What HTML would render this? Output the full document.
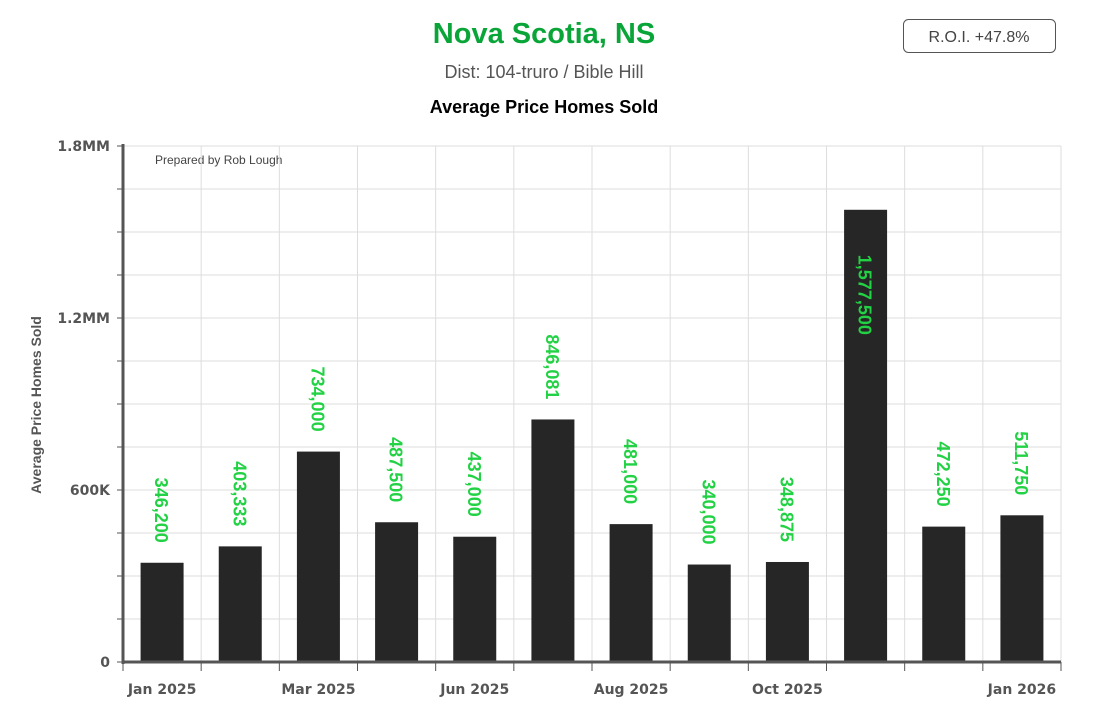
<!DOCTYPE html>
<html><head><meta charset="utf-8"><style>
body{margin:0;background:#fff;font-family:"Liberation Sans",sans-serif;}
#wrap{position:relative;width:1093px;height:712px;overflow:hidden;}
</style></head><body>
<div id="wrap">
<svg id="chart" width="1093" height="712" xmlns="http://www.w3.org/2000/svg">
<text x="544" y="43" text-anchor="middle" font-size="29" font-weight="bold" fill="#0aa538">Nova Scotia, NS</text>
<text x="544" y="78" text-anchor="middle" font-size="18" fill="#555">Dist: 104-truro / Bible Hill</text>
<text x="544" y="113" text-anchor="middle" font-size="18" font-weight="bold" fill="#000">Average Price Homes Sold</text>
<g>
<rect x="903.5" y="19.5" width="152" height="33" rx="5" fill="#fff" stroke="#555"/>
<text x="979" y="42" text-anchor="middle" font-size="16" fill="#444">R.O.I. +47.8%</text>
</g>
<text x="155" y="164" font-size="12" fill="#444">Prepared by Rob Lough</text>
<text transform="translate(41,405) rotate(-90)" text-anchor="middle" font-size="14" font-weight="bold" fill="#555">Average Price Homes Sold</text>
<g id="grid"></g><g id="bars"></g><g id="axes"></g>
</svg>
</div>
<script>
const categories=["Jan 2025","Feb 2025","Mar 2025","Apr 2025","Jun 2025","Jul 2025","Aug 2025","Sep 2025","Oct 2025","Nov 2025","Dec 2025","Jan 2026"];
const values=[346200,403333,734000,487500,437000,846081,481000,340000,348875,1577500,472250,511750];
const labelShown=[true,false,true,false,true,false,true,false,true,false,false,true];
const yTickValues=[0,600000,1200000,1800000];
const yTickLabels=["0","600K","1.2MM","1.8MM"];
const yMax=1800000, gridStep=150000;
const NS="http://www.w3.org/2000/svg";
const X0=123,X1=1061,Y0=662,Y1=146;
const step=(X1-X0)/categories.length;
const xC=i=>X0+step*(i+0.5);
const y=v=>Y0-(v/yMax)*(Y0-Y1);
function mk(t,a,p){const e=document.createElementNS(NS,t);for(const k in a)e.setAttribute(k,a[k]);p.appendChild(e);return e;}
const grid=document.getElementById('grid'),bars=document.getElementById('bars'),axes=document.getElementById('axes');
for(let v=0;v<=yMax+1;v+=gridStep){
 const l=mk('line',{x1:X0,x2:X1,y1:y(v),y2:y(v),stroke:'#ddd','stroke-width':1},grid);
 
 
 const t=mk('line',{x1:X0-6,x2:X0,y1:y(v),y2:y(v),stroke:'#555','stroke-width':1},axes);
 
 
}
for(let i=0;i<=categories.length;i++){
 const x=X0+step*i;
 const l=mk('line',{x1:x,x2:x,y1:Y1,y2:Y0,stroke:'#ddd','stroke-width':1},grid);
 
 
 const t=mk('line',{x1:x,x2:x,y1:Y0,y2:Y0+9,stroke:'#555','stroke-width':1},axes);
 
 
}
values.forEach((v,i)=>{
 const bw=43,top=y(v);
 const r=mk('rect',{x:xC(i)-bw/2,y:top,width:bw,height:Y0-top,fill:'#262626'},bars);
 
 
 const txt=v.toLocaleString('en-US');
 const t=mk('text',{'font-size':18,'font-weight':'bold',fill:'#22d244'},bars);
 t.textContent=txt;
 
 
 const len=t.getComputedTextLength();
 let ty=(top-20-len>Y1+5)? top-20-len : top+45;
 t.setAttribute('transform',`translate(${xC(i)-7},${ty}) rotate(90)`);
});
const ax=mk('line',{x1:X0,x2:X0,y1:Y1-2,y2:Y0+2,stroke:'#555','stroke-width':3},axes);


const bx=mk('line',{x1:X0,x2:X1,y1:Y0,y2:Y0,stroke:'#555','stroke-width':3},axes);


yTickValues.forEach((v,i)=>{
 const t=mk('text',{x:X0-13,y:y(v)+5,'text-anchor':'end','font-size':14,'font-weight':'bold','font-family':'DejaVu Sans, sans-serif',fill:'#555'},axes);
 t.textContent=yTickLabels[i];
 
 
});
categories.forEach((c,i)=>{
 if(!labelShown[i])return;
 const t=mk('text',{x:xC(i),y:Y0+32,'text-anchor':'middle','font-size':14,'font-weight':'bold','font-family':'DejaVu Sans, sans-serif',fill:'#555'},axes);
 t.textContent=c;
 
 
});
</script>
</body></html>
